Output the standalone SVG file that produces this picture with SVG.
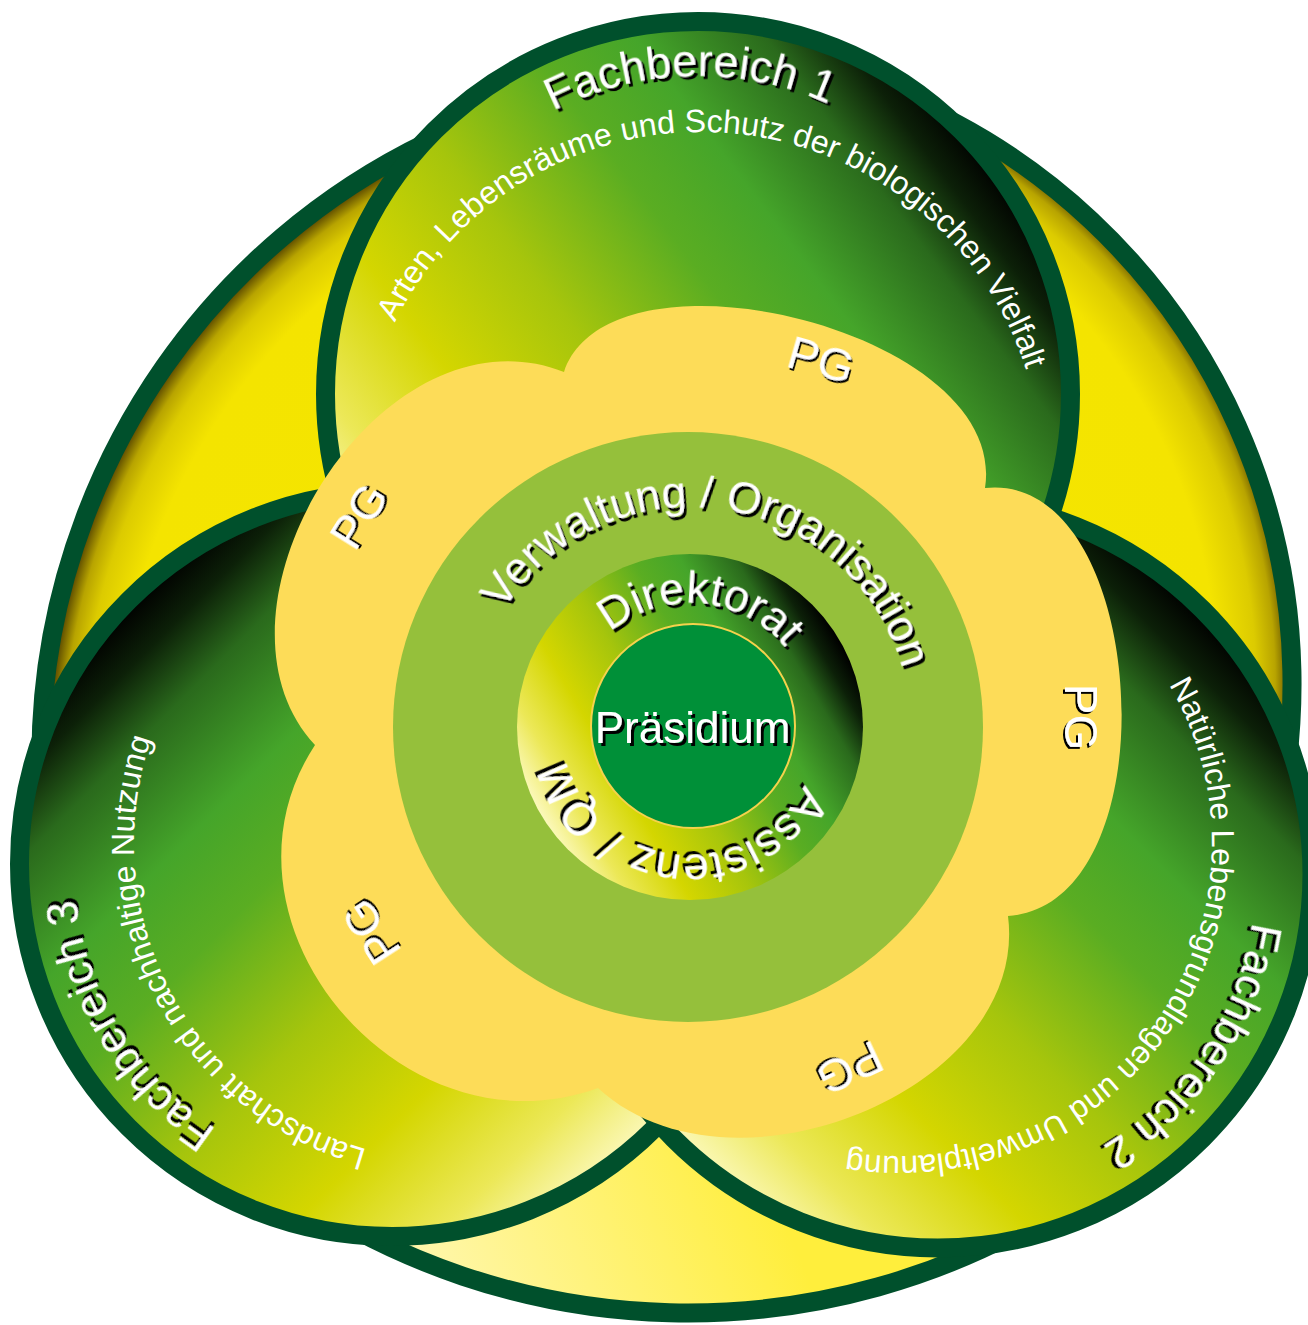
<svg xmlns="http://www.w3.org/2000/svg" xmlns:xlink="http://www.w3.org/1999/xlink" width="1308" height="1325" viewBox="0 0 1308 1325">
<defs>
<style>
.bd{stroke:#00502c;stroke-width:19;stroke-linejoin:round}
.t{font-family:"Liberation Sans",Arial,sans-serif;fill:#ffffff;text-anchor:middle}
.sh{filter:url(#shadow)}
.pg{font-size:46px;filter:url(#shadowThin)}
.sub{font-size:32px}
</style>
<filter id="shadow" x="-20%" y="-30%" width="140%" height="160%">
<feOffset in="SourceAlpha" dx="2.5" dy="2.5" result="o"/>
<feMerge><feMergeNode in="o"/><feMergeNode in="SourceGraphic"/></feMerge>
</filter>
<filter id="shadowThin" x="-20%" y="-30%" width="140%" height="160%">
<feOffset in="SourceAlpha" dx="1.5" dy="1.5" result="o"/>
<feMerge><feMergeNode in="o"/><feMergeNode in="SourceGraphic"/></feMerge>
</filter>
<radialGradient id="gL" gradientUnits="userSpaceOnUse" cx="726" cy="759" r="694">
<stop offset="0" stop-color="#f6e700"/><stop offset="0.88" stop-color="#f4e400"/><stop offset="0.93" stop-color="#dccb00"/><stop offset="0.955" stop-color="#b8a400"/><stop offset="0.975" stop-color="#5e4c00"/><stop offset="1" stop-color="#3e3000"/>
</radialGradient>
<radialGradient id="gR" gradientUnits="userSpaceOnUse" cx="657" cy="684" r="644">
<stop offset="0" stop-color="#f6e700"/><stop offset="0.87" stop-color="#f4e400"/><stop offset="0.93" stop-color="#dccb00"/><stop offset="0.96" stop-color="#b8a400"/><stop offset="0.985" stop-color="#5a4800"/><stop offset="1" stop-color="#3e3000"/>
</radialGradient>
<linearGradient id="gB" gradientUnits="userSpaceOnUse" x1="420" y1="1300" x2="760" y2="1160">
<stop offset="0" stop-color="#fff7b0"/><stop offset="1" stop-color="#ffee3c"/>
</linearGradient>
<linearGradient id="gFB1" x1="0.10" y1="0.80" x2="0.90" y2="0.20">
<stop offset="0" stop-color="#fbf8b8"/><stop offset="0.1" stop-color="#ece858"/><stop offset="0.25" stop-color="#d4d600"/><stop offset="0.42" stop-color="#a6c50c"/><stop offset="0.6" stop-color="#5aad22"/><stop offset="0.72" stop-color="#45a52a"/><stop offset="0.86" stop-color="#2a6a1c"/><stop offset="0.94" stop-color="#0c2008"/><stop offset="1" stop-color="#000000"/>
</linearGradient>
<linearGradient id="gFB3" xlink:href="#gFB1" x1="0.85" y1="0.85" x2="0.15" y2="0.15"/>
<linearGradient id="gFB2" xlink:href="#gFB1" x1="0.15" y1="0.85" x2="0.85" y2="0.15"/>
<linearGradient id="gDir" xlink:href="#gFB1" x1="0.07" y1="0.75" x2="0.93" y2="0.25"/>
<clipPath id="outerClip"><path d="M894.3,94.9 A685,685 0 0 0 43.6,818.7 L283.6,1185.5 A705,705 0 0 0 1061.6,1205.9 L1253.7,901.2 A635,635 0 0 0 894.3,94.9 Z"/></clipPath>
<path id="cFB1t" d="M698,712 A318,318 0 1 1 698,76 A318,318 0 1 1 698,712"/>
<path id="cFB1s" d="M701,814 A341,341 0 1 1 701,132 A341,341 0 1 1 701,814"/>
<path id="cFB2t" d="M938,1192 A318,318 0 1 1 938,556 A318,318 0 1 1 938,1192"/>
<path id="cFB2s" d="M899,1156 A313,313 0 1 1 899,530 A313,313 0 1 1 899,1156"/>
<path id="cFB3t" d="M392,1182 A318,318 0 1 1 392,546 A318,318 0 1 1 392,1182"/>
<path id="cFB3s" d="M452,1161 A318,318 0 1 1 452,525 A318,318 0 1 1 452,1161"/>
<path id="cVer" d="M690,947 A220,220 0 1 1 690,507 A220,220 0 1 1 690,947"/>
<path id="cDir" d="M690,851 A124,124 0 1 1 690,603 A124,124 0 1 1 690,851"/>
<path id="cAss" d="M690,855 A128,128 0 1 1 690,599 A128,128 0 1 1 690,855"/>
</defs>
<rect width="1308" height="1325" fill="#ffffff"/>

<g id="outer-shape">
<g clip-path="url(#outerClip)">
<rect x="0" y="0" width="670" height="1100" fill="url(#gL)"/>
<rect x="670" y="0" width="638" height="1100" fill="url(#gR)"/>
<rect x="0" y="1100" width="1308" height="225" fill="url(#gB)"/>
</g>
<path class="bd" fill="none" d="M894.3,94.9 A685,685 0 0 0 43.6,818.7 L283.6,1185.5 A705,705 0 0 0 1061.6,1205.9 L1253.7,901.2 A635,635 0 0 0 894.3,94.9 Z"/>
</g>

<g id="fachbereich-1">
<circle class="bd" cx="698" cy="394" r="372.5" fill="url(#gFB1)"/>
<text class="t sh" font-size="45" transform="rotate(-1.5 698 394)"><textPath xlink:href="#cFB1t" startOffset="999">Fachbereich 1</textPath></text>
<text class="t" font-size="32.2" transform="rotate(4.2 701 473)"><textPath xlink:href="#cFB1s" startOffset="1071.3">Arten, Lebensräume und Schutz der biologischen Vielfalt</textPath></text>
</g>

<g id="fachbereich-3">
<circle class="bd" cx="392" cy="864" r="372.5" fill="url(#gFB3)"/>
<text class="t sh" font-size="44" transform="rotate(238.5 392 864)"><textPath xlink:href="#cFB3t" startOffset="999">Fachbereich 3</textPath></text>
<text class="t sub" transform="rotate(242.3 452 843)"><textPath xlink:href="#cFB3s" startOffset="999">Landschaft und nachhaltige Nutzung</textPath></text>
</g>

<g id="fachbereich-2">
<circle class="bd" cx="938" cy="874" r="374" fill="url(#gFB2)"/>
<text class="t sh" font-size="44" transform="rotate(123.7 938 874)"><textPath xlink:href="#cFB2t" startOffset="999">Fachbereich 2</textPath></text>
<text class="t sub" transform="rotate(124.5 899 843)"><textPath xlink:href="#cFB2s" startOffset="983.3">Natürliche Lebensgrundlagen und Umweltplanung</textPath></text>
</g>

<g id="projektgruppen">
<path fill="#fddc58" d="M315,745 C190,610 380,300 564,372 C610,235 1010,330 985,488 C1150,470 1175,905 1008,916 C1030,1090 730,1210 598,1088 C400,1160 200,920 315,745 Z"/>
<text class="t pg" transform="translate(821,360) rotate(16)" x="0" y="16">PG</text>
<text class="t pg" transform="translate(1081,717) rotate(90)" x="0" y="16">PG</text>
<text class="t pg" transform="translate(850,1068) rotate(155)" x="0" y="16">PG</text>
<text class="t pg" transform="translate(371,932) rotate(-123)" x="0" y="16">PG</text>
<text class="t pg" transform="translate(359,516) rotate(-58)" x="0" y="16">PG</text>
</g>

<g id="verwaltung-organisation">
<circle cx="688" cy="727" r="295" fill="#95c03b"/>
<text class="t sh" font-size="44.5" transform="rotate(8.2 690 727)"><textPath xlink:href="#cVer" startOffset="691.2">Verwaltung / Organisation</textPath></text>
</g>

<g id="direktorat">
<circle cx="690" cy="727" r="173" fill="url(#gDir)"/>
<text class="t sh" font-size="45" transform="rotate(4.8 690 727)"><textPath xlink:href="#cDir" startOffset="389.6">Direktorat</textPath></text>
<text class="t sh" font-size="46" transform="rotate(186 690 727)"><textPath xlink:href="#cAss" startOffset="402.1">Assistenz / QM</textPath></text>
</g>

<g id="praesidium">
<circle cx="693" cy="726" r="102" fill="#009038" stroke="#f5d24c" stroke-width="2"/>
<text class="t sh" font-size="44" x="692.5" y="743">Präsidium</text>
</g>

<g id="connectors"/>
</svg>
